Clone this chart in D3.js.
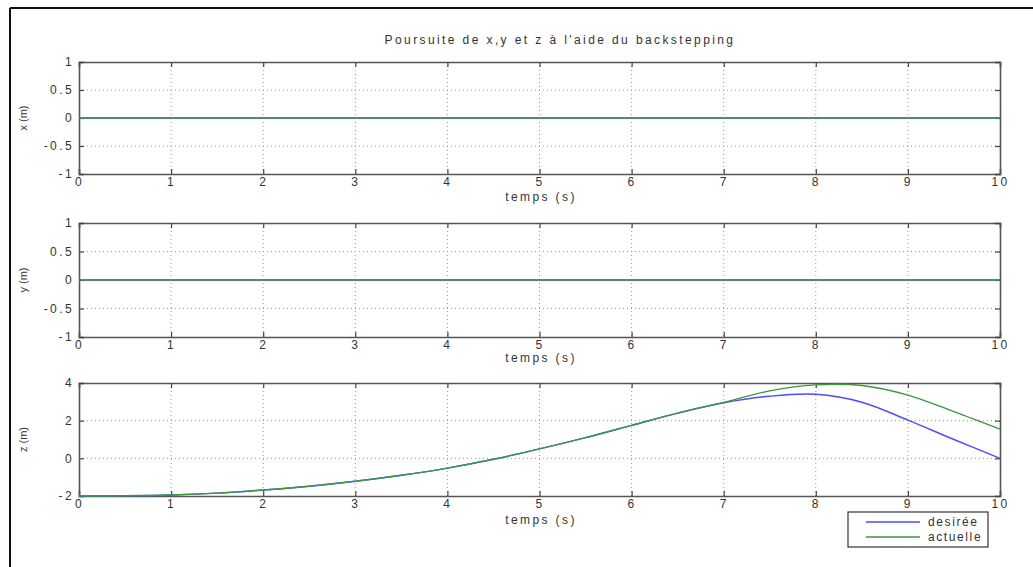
<!DOCTYPE html>
<html><head><meta charset="utf-8">
<script src="https://cdn.jsdelivr.net/npm/d3@7"></script>
<style>
body{margin:0;background:#fff;}
svg{display:block;font-family:"Liberation Sans",Arial,sans-serif;}
</style></head>
<body>
<svg id="c" width="1033" height="567"></svg>
<script>
const title = "Poursuite de x,y et z à l'aide du backstepping";
const xLabel = "temps (s)";
const yLabels = ["x (m)", "y (m)", "z (m)"];
const legendLabels = ["desirée", "actuelle"];
const timeValues = [0,0.5,1,1.5,2,2.5,3,3.5,4,4.5,5,5.5,6,6.5,7,7.5,8,8.5,9,9.5,10];
const xDesired = [0,0,0,0,0,0,0,0,0,0,0,0,0,0,0,0,0,0,0,0,0];
const xActual  = [0,0,0,0,0,0,0,0,0,0,0,0,0,0,0,0,0,0,0,0,0];
const yDesired = [0,0,0,0,0,0,0,0,0,0,0,0,0,0,0,0,0,0,0,0,0];
const yActual  = [0,0,0,0,0,0,0,0,0,0,0,0,0,0,0,0,0,0,0,0,0];
const zDesired = [-2,-1.99,-1.95,-1.85,-1.68,-1.48,-1.22,-0.9,-0.52,-0.05,0.5,1.1,1.75,2.4,2.95,3.3,3.4,2.98,2.03,1.0,0.0];
const zActual  = [-2,-1.99,-1.95,-1.85,-1.68,-1.48,-1.22,-0.9,-0.52,-0.05,0.5,1.1,1.75,2.4,2.97,3.58,3.9,3.87,3.36,2.48,1.55];
const xTicks = [0,1,2,3,4,5,6,7,8,9,10];
const xyTicks = [-1,-0.5,0,0.5,1];
const zTicks = [-2,0,2,4];

const colDes = "#4b4bff", colAct = "#3f963f", txt = "#333";
const LS = 2.4;
const svg = d3.select("#c");

// figure frame
svg.append("line").attr("x1",10).attr("x2",10).attr("y1",8).attr("y2",567).attr("stroke","#111").attr("stroke-width",2);
svg.append("line").attr("x1",10).attr("x2",1033).attr("y1",8).attr("y2",8).attr("stroke","#111").attr("stroke-width",2);

const x = d3.scaleLinear().domain([0,10]).range([79,1000]);

const panels = [
  {top:62, bottom:174, domain:[-1,1], ticks:xyTicks, des:xDesired, act:xActual, label:yLabels[0], labY:201},
  {top:223, bottom:337, domain:[-1,1], ticks:xyTicks, des:yDesired, act:yActual, label:yLabels[1], labY:362},
  {top:383, bottom:496, domain:[-2,4], ticks:zTicks, des:zDesired, act:zActual, label:yLabels[2], labY:524}
];

panels.forEach(p => {
  const y = d3.scaleLinear().domain(p.domain).range([p.bottom,p.top]);
  const g = svg.append("g");
  g.append("rect").attr("x",79).attr("y",p.top).attr("width",921).attr("height",p.bottom-p.top).attr("fill","#fff");
  // grid
  g.selectAll(".gx").data(xTicks.slice(1,-1)).enter().append("line")
    .attr("x1",d=>x(d)).attr("x2",d=>x(d)).attr("y1",p.top).attr("y2",p.bottom)
    .attr("stroke","#999").attr("stroke-width",1).attr("stroke-dasharray","1,3");
  g.selectAll(".gy").data(p.ticks.slice(1,-1)).enter().append("line")
    .attr("x1",79).attr("x2",1000).attr("y1",d=>y(d)).attr("y2",d=>y(d))
    .attr("stroke","#999").attr("stroke-width",1).attr("stroke-dasharray","1,3");
  // axes (ticks inside, box)
  const axB = d3.axisBottom(x).tickValues(xTicks).tickSize(-5).tickPadding(3).tickFormat(d3.format("d"));
  const axT = d3.axisTop(x).tickValues(xTicks).tickSize(-5).tickFormat("");
  const axL = d3.axisLeft(y).tickValues(p.ticks).tickSize(-5).tickPadding(5).tickFormat(d=>String(d));
  const axR = d3.axisRight(y).tickValues(p.ticks).tickSize(-5).tickFormat("");
  [[axB,`translate(0,${p.bottom})`],[axT,`translate(0,${p.top})`],[axL,`translate(79,0)`],[axR,`translate(1000,0)`]].forEach(([a,t])=>{
    const ag = g.append("g").attr("transform",t).call(a);
    ag.select(".domain").attr("stroke","#555").attr("stroke-width",1.6);
    ag.selectAll(".tick line").attr("stroke","#444").attr("stroke-width",1.2);
    ag.selectAll("text").attr("fill",txt).attr("font-size",12).attr("letter-spacing",LS)
      .attr("font-family","Liberation Sans, Arial, sans-serif");
  });
  // lines
  const line = d3.line().x((d,i)=>x(timeValues[i])).y(d=>y(d)).curve(d3.curveCatmullRom);
  g.append("path").datum(p.des).attr("d",line).attr("fill","none").attr("stroke",colDes).attr("stroke-width",1.4);
  g.append("path").datum(p.act).attr("d",line).attr("fill","none").attr("stroke",colAct).attr("stroke-width",1.4);
  // labels
  g.append("text").attr("x",541).attr("y",p.labY).attr("text-anchor","middle").attr("font-size",12)
    .attr("letter-spacing",LS).attr("fill",txt).text(xLabel);
  g.append("text").attr("transform",`translate(27,${(p.top+p.bottom)/2}) rotate(-90)`).attr("text-anchor","middle")
    .attr("font-size",11).attr("fill",txt).text(p.label);
});

svg.append("text").attr("x",560).attr("y",44).attr("text-anchor","middle").attr("font-size",12)
  .attr("letter-spacing",LS).attr("fill",txt).text(title);

// legend
const lg = svg.append("g");
lg.append("rect").attr("x",848).attr("y",512).attr("width",140).attr("height",35).attr("fill","#fff").attr("stroke","#333").attr("stroke-width",1.2);
[[colDes,legendLabels[0],522],[colAct,legendLabels[1],537]].forEach(([c,l,yy])=>{
  lg.append("line").attr("x1",866).attr("x2",920).attr("y1",yy).attr("y2",yy).attr("stroke",c).attr("stroke-width",1.5);
  lg.append("text").attr("x",928).attr("y",yy+4).attr("font-size",12).attr("letter-spacing",1.6).attr("fill",txt).text(l);
});
</script>
</body></html>
